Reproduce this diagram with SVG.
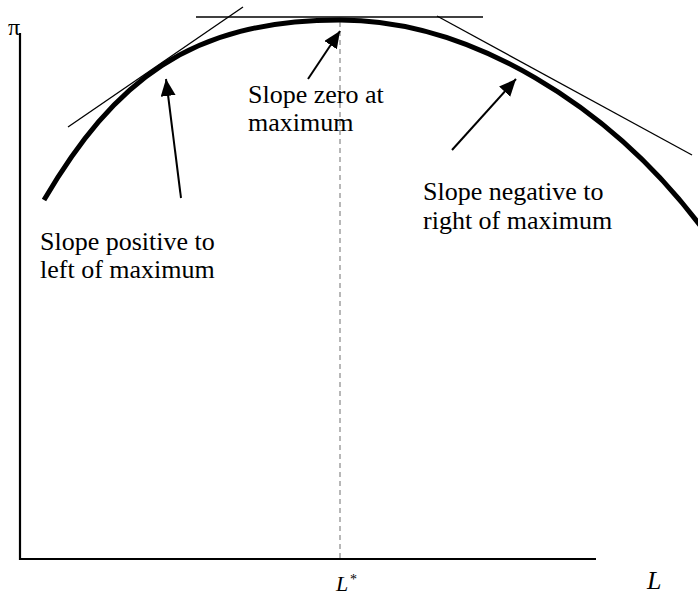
<svg xmlns="http://www.w3.org/2000/svg" width="698" height="595" viewBox="0 0 698 595">
<style>
text{font-family:"Liberation Serif","Times New Roman",serif;fill:#000}
.lbl{font-size:26px}
.tan{stroke:#000;stroke-width:1.3;fill:none}
.arr{stroke:#000;stroke-width:2;fill:none;marker-end:url(#ah)}
.ax{stroke:#000;stroke-width:2.2;fill:none}
</style>
<defs>
<marker id="ah" markerUnits="userSpaceOnUse" markerWidth="18" markerHeight="16" refX="17" refY="7.5" orient="auto">
<path d="M0,0 L17,7.5 L0,15 z" fill="#000"/>
</marker>
</defs>
<rect width="698" height="595" fill="#fff"/>
<g id="axes">
<path class="ax" d="M20,33 V559 H596"/>
<text x="8" y="35" font-size="24">π</text>
<text x="336" y="591" font-size="22" font-style="italic">L</text>
<text x="350" y="584" font-size="14">*</text>
<text x="647" y="589" font-size="26" font-style="italic">L</text>
</g>
<g id="maxline">
<line x1="340" y1="22" x2="340" y2="558" stroke="#888" stroke-width="1.2" stroke-dasharray="5,4"/>
</g>
<g id="curve">
<path d="M44,200 C114,81 190,20 340,20 C470,20 610,105 702,228" stroke="#000" stroke-width="5" fill="none"/>
</g>
<g id="tangents">
<line class="tan" x1="68" y1="127" x2="243" y2="7"/>
<line class="tan" x1="196" y1="17" x2="483" y2="17"/>
<line class="tan" x1="437" y1="16" x2="692" y2="155"/>
</g>
<g id="connectors">
<line class="arr" x1="181" y1="198" x2="166" y2="79"/>
<line class="arr" x1="308" y1="79" x2="340" y2="31"/>
<line class="arr" x1="452" y1="150" x2="516" y2="79"/>
</g>
<g id="label-left">
<text class="lbl" x="40" y="250">Slope positive to</text>
<text class="lbl" x="40" y="278">left of maximum</text>
</g>
<g id="label-zero">
<text class="lbl" x="248" y="103">Slope zero at</text>
<text class="lbl" x="248" y="131">maximum</text>
</g>
<g id="label-right">
<text class="lbl" x="423" y="200">Slope negative to</text>
<text class="lbl" x="423" y="229">right of maximum</text>
</g>
</svg>
